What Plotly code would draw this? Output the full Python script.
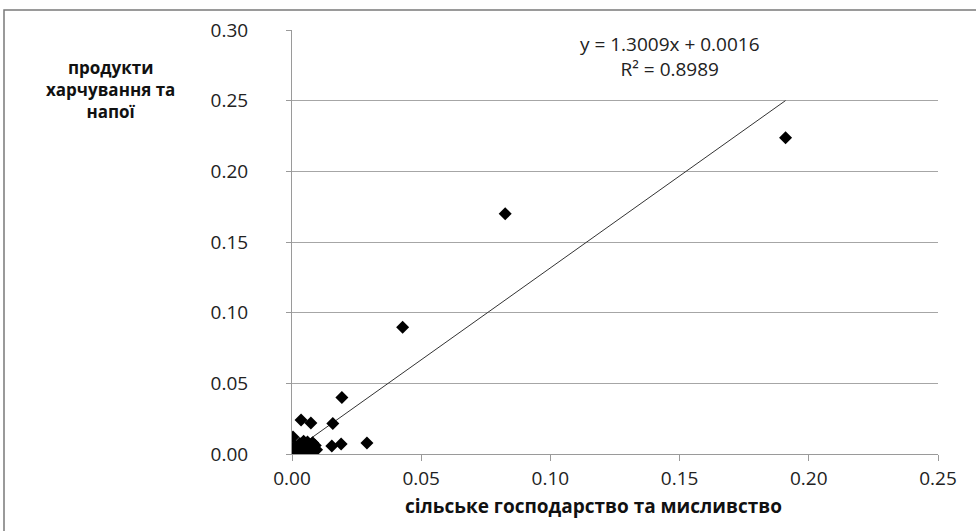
import plotly.graph_objects as go

# data
x_vals = [0.191, 0.0825, 0.0428, 0.0193, 0.0035, 0.0073, 0.0158, 0.0004,
          0.0154, 0.0190, 0.0290,
          0.0000, 0.0010, 0.0005, 0.0020, 0.0030, 0.0040, 0.0050, 0.0060,
          0.0070, 0.0080, 0.0082, 0.0090, 0.0012, 0.0030, 0.0020, 0.0060,
          0.0045, 0.0095]
y_vals = [0.2238, 0.1700, 0.0896, 0.0400, 0.0240, 0.0220, 0.0215, 0.0120,
          0.0057, 0.0070, 0.0078,
          0.0000, 0.0010, 0.0030, 0.0020, 0.0045, 0.0010, 0.0065, 0.0020,
          0.0050, 0.0080, 0.0020, 0.0060, 0.0055, 0.0075, 0.0000, 0.0085,
          0.0090, 0.0030]
slope = 1.3009
intercept = 0.0016
r2 = 0.8989
x_ticks = [0.00, 0.05, 0.10, 0.15, 0.20, 0.25]
y_ticks = [0.00, 0.05, 0.10, 0.15, 0.20, 0.25, 0.30]
x_title = "сільське господарство та мисливство"
y_title_lines = ["продукти", "харчування та", "напої"]

trend_x = [min(x_vals), max(x_vals)]
trend_y = [slope * v + intercept for v in trend_x]

FONT = "Open Sans"
PW, PH = 646, 424  # plot area size in px


def px_x(p):
    return (p - 292) / PW


def px_y(p):
    return (454 - p) / PH


fig = go.Figure()
fig.add_trace(go.Scatter(x=trend_x, y=trend_y, mode="lines",
                         line=dict(color="#333333", width=1),
                         hoverinfo="skip", showlegend=False))
fig.add_trace(go.Scatter(x=x_vals, y=y_vals, mode="markers",
                         marker=dict(symbol="diamond", size=10, color="black",
                                     line=dict(width=0)),
                         showlegend=False))

fig.update_layout(
    width=976, height=531,
    margin=dict(l=292, r=38, t=30, b=77),
    paper_bgcolor="white", plot_bgcolor="white",
    font=dict(family=FONT, size=19, color="#222222"),
    xaxis=dict(range=[0, 0.25], tickvals=x_ticks, ticktext=[f"{v:.2f}" for v in x_ticks],
               showgrid=False, zeroline=False, showline=True, linecolor="#9a9a9a",
               linewidth=1, ticks="outside", ticklen=6, tickcolor="#9a9a9a",
               ticklabelstandoff=1),
    yaxis=dict(range=[0, 0.30], tickvals=y_ticks, ticktext=[f"{v:.2f}" for v in y_ticks],
               showgrid=True, gridcolor="#a6a6a6", gridwidth=1.3, zeroline=False,
               showline=True, linecolor="#9a9a9a", linewidth=1, ticks="outside",
               ticklen=5, tickcolor="#9a9a9a", ticklabelstandoff=34),
)

fig.add_annotation(xref="paper", yref="paper", x=px_x(110), y=px_y(89),
                   text="<b>" + "<br>".join(y_title_lines) + "</b>", showarrow=False,
                   font=dict(family=FONT, size=17, color="#111111"),
                   align="center", xanchor="center", yanchor="middle")
fig.add_annotation(xref="paper", yref="paper", x=px_x(593), y=px_y(506),
                   text="<b>" + x_title + "</b>", showarrow=False,
                   font=dict(family=FONT, size=19, color="#111111"),
                   xanchor="center", yanchor="middle")
fig.add_annotation(xref="paper", yref="paper", x=px_x(670), y=px_y(56),
                   text=f"y = {slope:.4f}x + {intercept:.4f}<br>R² = {r2:.4f}",
                   showarrow=False, font=dict(family=FONT, size=19, color="#222222"),
                   align="center", xanchor="center", yanchor="middle")

fig.add_shape(type="rect", xref="paper", yref="paper",
              x0=px_x(4), x1=1.2, y0=-0.4, y1=px_y(10),
              line=dict(color="#7a7a7a", width=1.5), fillcolor="rgba(0,0,0,0)",
              layer="above")

fig.write_html("out.html", config={"displayModeBar": False},
               post_script="document.body.style.margin='0px';")
